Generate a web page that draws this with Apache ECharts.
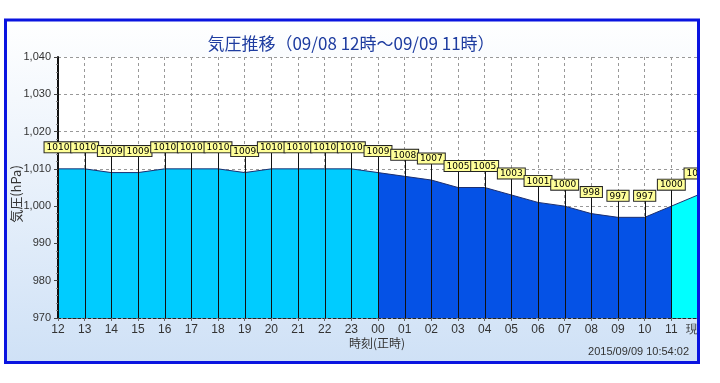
<!DOCTYPE html>
<html><head><meta charset="utf-8">
<script src="https://cdn.jsdelivr.net/npm/echarts/dist/echarts.min.js"></script>
<style>html,body{margin:0;padding:0;background:#fff}#c{width:720px;height:383px}</style>
</head><body><div id="c"></div>
<script>
const categories = ['12','13','14','15','16','17','18','19','20','21','22','23','00','01','02','03','04','05','06','07','08','09','10','11','現在'];
const pressure = [1010,1010,1009,1009,1010,1010,1010,1009,1010,1010,1010,1010,1009,1008,1007,1005,1005,1003,1001,1000,998,997,997,1000,1003];
const yMin = 970, yMax = 1040, yStep = 10;
const titleText = '気圧推移（09/08 12時～09/09 11時）';
const yName = '気圧(hPa)';
const xName = '時刻(正時)';
const stampText = '2015/09/09 10:54:02';
// segment boundaries (category indices)
const seg1End = 12, seg2End = 23;

const seg1 = pressure.map((v,i)=> i<=seg1End ? v : '-');
const seg2 = pressure.map((v,i)=> (i>=seg1End && i<=seg2End) ? v : '-');
const seg3 = pressure.map((v,i)=> i>=seg2End ? v : '-');

const chart = echarts.init(document.getElementById('c'), null, {renderer:'canvas'});
const font = '"Liberation Sans", Arial, sans-serif';
const jp = '"Noto Sans CJK JP", sans-serif';

function areaSeries(data, color){
  return {
    type:'line', data, symbol:'none', z:2,
    lineStyle:{color:'#1c2f70', width:1},
    areaStyle:{color, opacity:1, origin:'start'},
    silent:true, animation:false
  };
}

chart.setOption({
  animation:false,
  grid:{left:58, right:22, top:57, bottom:65, show:true, backgroundColor:'#ffffff', borderWidth:0},
  graphic:[
    {type:'rect', z:-10, shape:{x:5.5,y:20,width:693,height:342.5},
     style:{fill:new echarts.graphic.LinearGradient(0,0,0,1,[{offset:0,color:'#ffffff'},{offset:1,color:'#cfe1f6'}])}},
    {type:'rect', z:99, shape:{x:700,y:0,width:20,height:383}, style:{fill:'#ffffff'}},
    {type:'rect', z:100, shape:{x:5.5,y:20,width:693,height:342.5}, style:{fill:null, stroke:'#0a14e0', lineWidth:3}},
    {type:'text', z:50, x:351, y:44, style:{text:titleText, fill:'#1e3ca0', font:'17px '+jp, align:'center', verticalAlign:'middle'}},
    {type:'text', z:50, rotation:Math.PI/2, x:16, y:194, style:{text:yName, fill:'#333', font:'13px '+jp, align:'center', verticalAlign:'middle'}},
    {type:'text', z:50, x:377, y:343, style:{text:xName, fill:'#333', font:'12px '+jp, align:'center', verticalAlign:'middle'}},
    {type:'text', z:50, x:689, y:352, style:{text:stampText, fill:'#333', font:'11px '+font, align:'right', verticalAlign:'middle'}}
  ],
  xAxis:{
    type:'category', data:categories, boundaryGap:false,
    axisLine:{lineStyle:{color:'#222', type:[3,2], width:1}},
    axisTick:{show:true, length:3, lineStyle:{color:'#666'}},
    axisLabel:{color:'#333', fontSize:12, fontFamily:font, margin:6, interval:0},
    splitLine:{show:true, lineStyle:{color:'#999', type:[3,3]}}
  },
  yAxis:{
    type:'value', min:yMin, max:yMax, interval:yStep,
    axisLine:{show:true, lineStyle:{color:'#111', width:2}},
    axisTick:{show:true, length:4, lineStyle:{color:'#444'}},
    minorTick:{show:true, splitNumber:5, length:2, lineStyle:{color:'#888'}},
    axisLabel:{color:'#333', fontSize:11, fontFamily:font, margin:7,
      formatter:v=>v.toLocaleString('en-US')},
    splitLine:{show:true, lineStyle:{color:'#999', type:[3,3]}}
  },
  series:[
    areaSeries(seg1,'#00ccff'),
    areaSeries(seg2,'#0552e6'),
    areaSeries(seg3,'#00ffff'),
    {
      type:'custom', z:10, clip:false, silent:true,
      data: pressure.map((v,i)=>[i,v]),
      renderItem(params, api){
        const i = api.value(0), v = api.value(1);
        const p = api.coord([i, v]);
        const b = api.coord([i, yMin]);
        const top = p[1] - 17;
        return {type:'group', children:[
          {type:'line', shape:{x1:Math.round(p[0])+0.5, y1:top, x2:Math.round(p[0])+0.5, y2:b[1]}, style:{stroke:'#111', lineWidth:1}},
          {type:'text', x:p[0], y:top+0.5, style:{text:String(v), fill:'#000', font:'9px "DejaVu Sans"', align:'center', verticalAlign:'bottom',
            backgroundColor:'#ffff99', borderColor:'#222', borderWidth:1, padding:[1,2,0,2]}}
        ]};
      }
    }
  ]
});
</script></body></html>
